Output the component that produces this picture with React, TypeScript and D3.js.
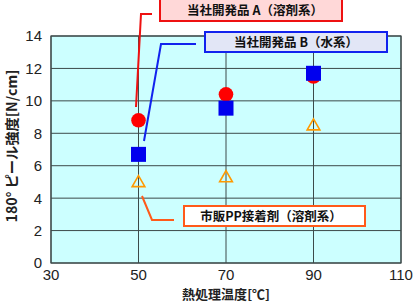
import React from "react";
import * as d3 from "d3";

const temps = [50, 70, 90];
const seriesA = [8.8, 10.4, 11.5];
const seriesB = [6.7, 9.55, 11.7];
const seriesC = [5.0, 5.3, 8.5];
const xTicks = [30, 50, 70, 90, 110];
const yTicks = [0, 2, 4, 6, 8, 10, 12, 14];
const labelA = "当社開発品 A（溶剤系）";
const labelB = "当社開発品 B（水系）";
const labelC = "市販PP接着剤（溶剤系）";
const xTitle = "熱処理温度[℃]";
const yTitle = "180° ピール強度[N/cm]";

const W = 415, H = 306;
const font = "'Noto Sans CJK JP', 'Noto Sans', sans-serif";
const numFont = "Arial, 'Liberation Sans', sans-serif";

export default function App() {
  const x = d3.scaleLinear().domain([30, 110]).range([51, 401]);
  const y = d3.scaleLinear().domain([0, 14]).range([263, 36]);
  const tri = d3.symbol().type(d3.symbolTriangle).size(70)() as string;
  return (
    <svg width={W} height={H} style={{ position: "absolute", left: 0, top: 0 }}>
      <rect x={0} y={0} width={W} height={H} fill="#fff" />
      <rect x={x(30)} y={y(14)} width={x(110) - x(30)} height={y(0) - y(14)} fill="#ccffff" />
      {yTicks.map((t) => (
        <line key={"gy" + t} x1={x(30)} x2={x(110)} y1={y(t)} y2={y(t)} stroke="#3c4a4a" strokeWidth={1} />
      ))}
      {xTicks.map((t) => (
        <line key={"gx" + t} x1={x(t)} x2={x(t)} y1={y(0)} y2={y(14)} stroke="#3c4a4a" strokeWidth={1} />
      ))}
      <rect x={x(30)} y={y(14)} width={x(110) - x(30)} height={y(0) - y(14)} fill="none" stroke="#3c4a4a" strokeWidth={1.2} />
      {yTicks.map((t) => (
        <text key={"ty" + t} x={42} y={y(t)} dy="0.36em" textAnchor="end" fontFamily={numFont} fontSize={15} fill="#222">{t}</text>
      ))}
      {xTicks.map((t) => (
        <text key={"tx" + t} x={x(t)} y={280} textAnchor="middle" fontFamily={numFont} fontSize={15} fill="#222">{t}</text>
      ))}
      <text x={226} y={299} textAnchor="middle" fontFamily={font} fontSize={13} fontWeight="bold" fill="#222" textLength={88} lengthAdjust="spacingAndGlyphs">{xTitle}</text>
      <text transform={`translate(17,${146}) rotate(-90)`} textAnchor="middle" fontFamily={font} fontSize={14} fontWeight="bold" fill="#222" textLength={153} lengthAdjust="spacingAndGlyphs">{yTitle}</text>

      {/* leader lines */}
      <polyline points={`152,14 141,14 136,107`} fill="none" stroke="#ee1111" strokeWidth={2} />
      <polyline points={`196,44 161,44 144,141`} fill="none" stroke="#1122ee" strokeWidth={2} />
      <polyline points={`142,196 152,220 174,220`} fill="none" stroke="#ff5a1a" strokeWidth={2} />

      {/* markers */}
      {temps.map((t, i) => (
        <circle key={"a" + i} cx={x(t)} cy={y(seriesA[i])} r={7.3} fill="#ff0000" />
      ))}
      {temps.map((t, i) => (
        <rect key={"b" + i} x={x(t) - 7.5} y={y(seriesB[i]) - 7.5} width={15} height={15} fill="#0000ee" />
      ))}
      {temps.map((t, i) => (
        <path key={"c" + i} d={tri} transform={`translate(${x(t)},${y(seriesC[i]) + 1})`} fill="none" stroke="#ff9900" strokeWidth={1.6} />
      ))}

      {/* label boxes */}
      <rect x={160} y={-2} width={182} height={23} fill="#ffd8d8" stroke="#ee1111" strokeWidth={2} />
      <text x={255} y={10} dy="0.36em" textAnchor="middle" fontFamily={font} fontSize={12.5} fontWeight="bold" fill="#111">{labelA}</text>
      <rect x={205} y={32} width={182} height={20} fill="#e2e6f6" stroke="#1122ee" strokeWidth={2} />
      <text x={296} y={42} dy="0.36em" textAnchor="middle" fontFamily={font} fontSize={12.5} fontWeight="bold" fill="#111">{labelB}</text>
      <rect x={184} y={206} width={181} height={20} fill="#ffffff" stroke="#ff5a1a" strokeWidth={2} />
      <text x={271} y={216} dy="0.36em" textAnchor="middle" fontFamily={font} fontSize={12.5} fontWeight="bold" fill="#111">{labelC}</text>
    </svg>
  );
}
